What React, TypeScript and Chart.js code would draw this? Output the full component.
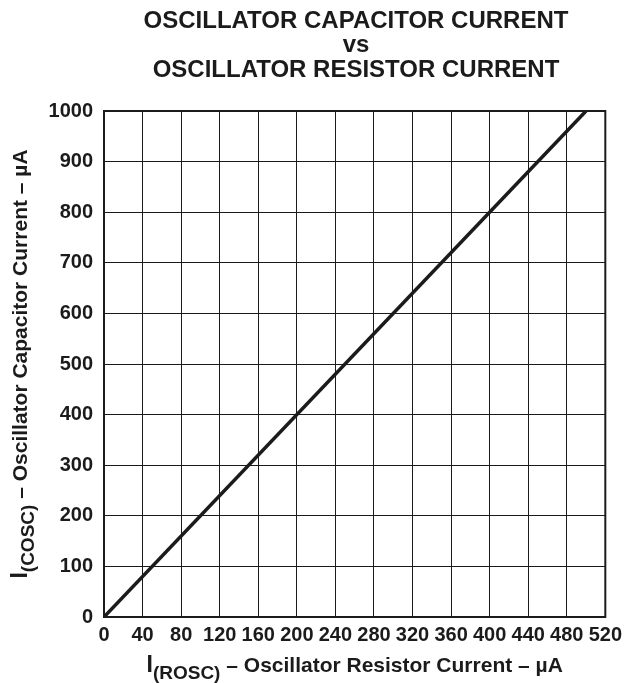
import React, { useEffect, useRef } from "react";
import { Chart, registerables } from "chart.js";

Chart.register(...registerables);

const xValues = [0, 500];
const yValues = [0, 1000];
const xMin = 0, xMax = 520, xStep = 40;
const yMin = 0, yMax = 1000, yStep = 100;
const titleLines = ["OSCILLATOR CAPACITOR CURRENT", "vs", "OSCILLATOR RESISTOR CURRENT"];
const xTitleParts = ["I", "(ROSC)", " – Oscillator Resistor Current – µA"];
const yTitleParts = ["I", "(COSC)", " – Oscillator Capacitor Current – µA"];

const FONT = '"Liberation Sans", Arial, Helvetica, sans-serif';
const INK = "#1b1b1b";

function drawRich(ctx: CanvasRenderingContext2D, parts: string[], cx: number, cy: number, rot: number) {
  const segs = [
    { t: parts[0], f: `bold 23px ${FONT}`, dy: 0 },
    { t: parts[1], f: `bold 19px ${FONT}`, dy: 7 },
    { t: parts[2], f: `bold 21px ${FONT}`, dy: 0 },
  ];
  ctx.save();
  ctx.translate(cx, cy);
  ctx.rotate(rot);
  ctx.fillStyle = INK;
  ctx.textBaseline = "alphabetic";
  ctx.textAlign = "left";
  let total = 0;
  const widths = segs.map((s) => {
    ctx.font = s.f;
    const w = ctx.measureText(s.t).width;
    total += w;
    return w;
  });
  let x = -total / 2;
  segs.forEach((s, i) => {
    ctx.font = s.f;
    ctx.fillText(s.t, x, s.dy);
    x += widths[i];
  });
  ctx.restore();
}

const decorPlugin = {
  id: "decor",
  afterDraw(chart: any) {
    const ctx = chart.ctx as CanvasRenderingContext2D;
    const a = chart.chartArea;
    ctx.save();
    ctx.strokeStyle = INK;
    ctx.lineWidth = 2;
    ctx.strokeRect(a.left, a.top, a.right - a.left, a.bottom - a.top);
    ctx.fillStyle = INK;
    ctx.font = `bold 24px ${FONT}`;
    ctx.textAlign = "center";
    ctx.textBaseline = "alphabetic";
    const baselines = [28, 52, 77];
    titleLines.forEach((t, i) => ctx.fillText(t, 356, baselines[i]));
    ctx.restore();
    drawRich(ctx, xTitleParts, (a.left + a.right) / 2, 672, 0);
    drawRich(ctx, yTitleParts, 27, (a.top + a.bottom) / 2, -Math.PI / 2);
  },
};

export default function App() {
  const ref = useRef<HTMLCanvasElement>(null);
  useEffect(() => {
    document.body.style.margin = "0";
    const canvas = ref.current!;
    const chart = new Chart(canvas, {
      type: "scatter",
      data: {
        datasets: [
          {
            data: xValues.map((x, i) => ({ x, y: yValues[i] })),
            showLine: true,
            borderColor: INK,
            borderWidth: 3.5,
            pointRadius: 0,
            fill: false,
          },
        ],
      },
      options: {
        animation: false,
        responsive: false,
        maintainAspectRatio: false,
        layout: { padding: { top: 111, right: 22, left: 0, bottom: 0 } },
        plugins: { legend: { display: false }, tooltip: { enabled: false }, title: { display: false } },
        scales: {
          x: {
            type: "linear",
            min: xMin,
            max: xMax,
            afterFit: (s: any) => { s.height = 66; },
            ticks: { stepSize: xStep, color: INK, font: { family: FONT, size: 20, weight: "bold" }, padding: 6, maxRotation: 0, autoSkip: false, callback: (v: any) => String(v) },
            grid: { color: INK, lineWidth: 1, drawTicks: false },
            border: { color: INK, width: 2 },
          },
          y: {
            type: "linear",
            min: yMin,
            max: yMax,
            afterFit: (s: any) => { s.width = 104; },
            ticks: { stepSize: yStep, color: INK, font: { family: FONT, size: 20, weight: "bold" }, padding: 11, autoSkip: false, callback: (v: any) => String(v) },
            grid: { color: INK, lineWidth: 1, drawTicks: false },
            border: { color: INK, width: 2 },
          },
        },
      },
      plugins: [decorPlugin],
    });
    return () => chart.destroy();
  }, []);
  return (
    <div style={{ width: 628, height: 683 }}>
      <canvas ref={ref} width={628} height={683} style={{ display: "block" }} />
    </div>
  );
}
